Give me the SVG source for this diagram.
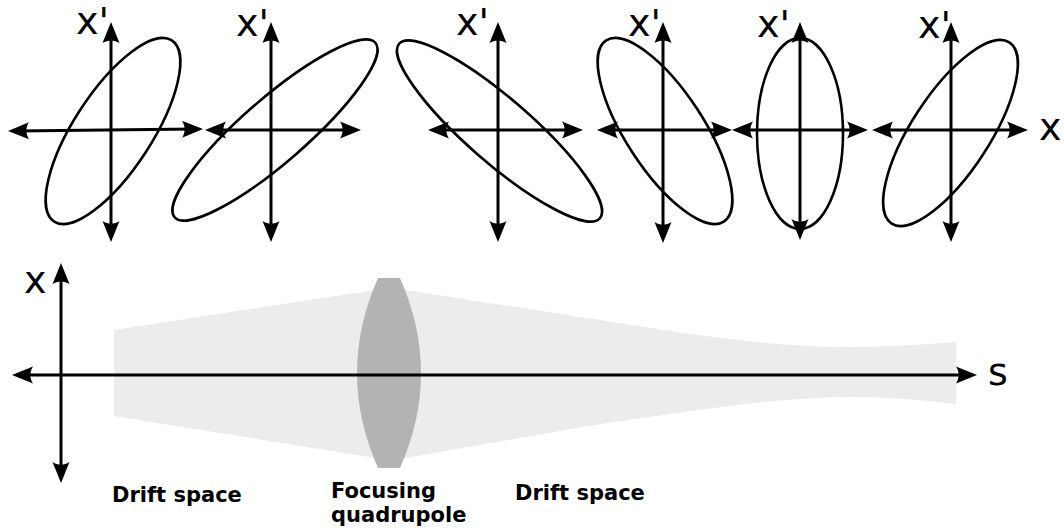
<svg xmlns="http://www.w3.org/2000/svg" width="1064" height="531" viewBox="0 0 1064 531">
  <style>
    .ax { stroke: #000; stroke-width: 3; fill: none; marker-start: url(#ah); marker-end: url(#ah); }
    .el { stroke: #000; stroke-width: 2.6; fill: none; }
    .lbl { font-family: "DejaVu Sans", "Liberation Sans", sans-serif; font-size: 38px; fill: #000; }
    .cap { font-family: "DejaVu Sans", "Liberation Sans", sans-serif; font-size: 21px; font-weight: bold; fill: #000; }
  </style>
  <defs>
    <marker id="ah" markerUnits="userSpaceOnUse" orient="auto-start-reverse" refX="0" refY="0" markerWidth="40" markerHeight="40" viewBox="-20 -20 40 40" overflow="visible">
      <path d="M8,0 L-13,-8.5 C-9.5,-3.2 -9.5,3.2 -13,8.5 Z" fill="#000"/>
    </marker>
  </defs>
  <rect width="1064" height="531" fill="#fff"/>

  <!-- beam envelope and lens -->
  <g id="beam">
    <path d="M114,330 L375,290 L405,290 L600,320 C700,336 780,348 860,347 C900,346 930,344 956,342 L956,404 C930,401 900,398 860,397 C780,396 700,410 600,424 L405,458 L375,458 L114,416 Z" fill="#ececec"/>
  </g>
  <g id="lens">
    <path d="M378,278 L400,278 Q442,373 400,468 L378,468 Q336,373 378,278 Z" fill="#b3b3b3"/>
  </g>

  <!-- phase-space panels -->
  <g id="panel1">
    <ellipse class="el" cx="113" cy="131" rx="108" ry="39" transform="rotate(-57 113 131)"/>
    <text class="lbl" x="76" y="34">x'</text>
  </g>
  <g id="panel2">
    <ellipse class="el" cx="275" cy="130" rx="133" ry="32" transform="rotate(-41 275 130)"/>
    <text class="lbl" x="236" y="36">x'</text>
  </g>
  <g id="panel3">
    <ellipse class="el" cx="499.5" cy="131" rx="133" ry="32" transform="rotate(41 499.5 131)"/>
    <text class="lbl" x="456" y="35">x'</text>
  </g>
  <g id="panel4">
    <ellipse class="el" cx="665" cy="131" rx="108" ry="39" transform="rotate(57 665 131)"/>
    <text class="lbl" x="628" y="36">x'</text>
  </g>
  <g id="panel5">
    <ellipse class="el" cx="800" cy="133.5" rx="43" ry="95.5"/>
    <text class="lbl" x="757" y="37">x'</text>
  </g>
  <g id="panel6">
    <ellipse class="el" cx="950.5" cy="133" rx="108" ry="39" transform="rotate(-57 950.5 133)"/>
    <text class="lbl" x="918" y="38">x'</text>
    <text class="lbl" x="1039" y="140">x</text>
  </g>

  <!-- axes -->
  <g id="connectors">
    <line class="ax" x1="16" y1="131" x2="195" y2="129"/>
    <line class="ax" x1="111" y1="30" x2="111" y2="234"/>
    <line class="ax" x1="213" y1="130" x2="353" y2="130"/>
    <line class="ax" x1="271" y1="30" x2="271" y2="234"/>
    <line class="ax" x1="436" y1="130" x2="575" y2="130"/>
    <line class="ax" x1="498" y1="30" x2="498" y2="234"/>
    <line class="ax" x1="605" y1="130" x2="724" y2="130"/>
    <line class="ax" x1="663" y1="30" x2="663" y2="235"/>
    <line class="ax" x1="740" y1="130" x2="860" y2="130"/>
    <line class="ax" x1="800" y1="30" x2="800" y2="232"/>
    <line class="ax" x1="880" y1="130" x2="1020" y2="130"/>
    <line class="ax" x1="951" y1="30" x2="951" y2="234"/>
    <line class="ax" x1="61" y1="271" x2="61" y2="475"/>
    <line class="ax" x1="20" y1="375" x2="969" y2="375"/>
  </g>

  <g id="bottom-labels">
    <text class="lbl" x="24" y="293" font-size="36">x</text>
    <text class="lbl" x="988" y="385">s</text>
    <text class="cap" x="112" y="502">Drift space</text>
    <text class="cap" x="331" y="498">Focusing</text>
    <text class="cap" x="331" y="522">quadrupole</text>
    <text class="cap" x="515" y="500">Drift space</text>
  </g>
</svg>
